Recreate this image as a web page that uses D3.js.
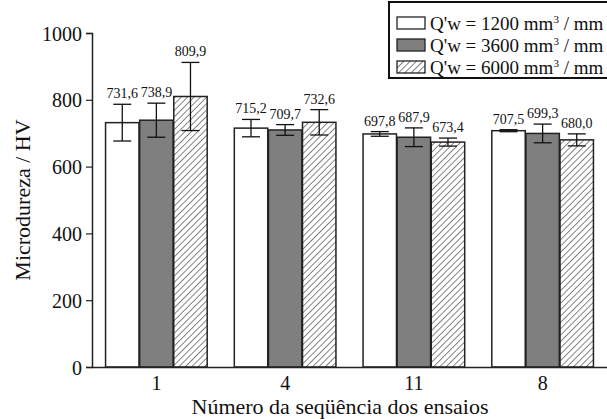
<!DOCTYPE html>
<html>
<head>
<meta charset="utf-8">
<script src="https://cdn.jsdelivr.net/npm/d3@7"></script>
<style>
  body { margin: 0; background: #fff; }
  text { font-family: "Liberation Serif", "Times New Roman", serif; fill: #111; }
</style>
</head>
<body>
<div id="chart"></div>
<script>
// data
var groups = ["1", "4", "11", "8"];
var series = ["Q'w = 1200", "Q'w = 3600", "Q'w = 6000"];
var vals1200 = [731.6, 715.2, 697.8, 707.5];
var vals3600 = [738.9, 709.7, 687.9, 699.3];
var vals6000 = [809.9, 732.6, 673.4, 680.0];
var err1200 = [55, 26, 7, 3];
var err3600 = [51, 16, 28, 28];
var err6000 = [102, 38, 12, 18];
var yTicks = [0, 200, 400, 600, 800, 1000];

var W = 607, H = 419;
var margin = { top: 33, right: 0, bottom: 52, left: 92 };
var width = W - margin.left - margin.right,
    height = H - margin.top - margin.bottom;

var svg = d3.select("#chart").append("svg")
    .attr("width", W)
    .attr("height", H);

// hatch pattern for the 6000 series
var defs = svg.append("defs");
defs.append("pattern")
    .attr("id", "hatch")
    .attr("patternUnits", "userSpaceOnUse")
    .attr("width", 4.5)
    .attr("height", 4.5)
    .attr("patternTransform", "rotate(45)")
  .append("line")
    .attr("x1", 0).attr("y1", 0)
    .attr("x2", 0).attr("y2", 4.5)
    .attr("stroke", "#333")
    .attr("stroke-width", 1.2);

var fills = ["#ffffff", "#7f7f7f", "url(#hatch)"];

var g = svg.append("g")
    .attr("transform", "translate(" + margin.left + "," + margin.top + ")");

var x = d3.scaleBand().domain(groups).range([0, width])
    .paddingInner(0.2).paddingOuter(0.1);
var xs = d3.scaleBand().domain(series).range([0, x.bandwidth()]).padding(0.02);
var y = d3.scaleLinear().domain([0, 1000]).range([height, 0]);

var rows = [];
groups.forEach(function(grp, i) {
    rows.push({ g: grp, s: series[0], v: vals1200[i], e: err1200[i], k: 0 });
    rows.push({ g: grp, s: series[1], v: vals3600[i], e: err3600[i], k: 1 });
    rows.push({ g: grp, s: series[2], v: vals6000[i], e: err6000[i], k: 2 });
});

// bars
g.selectAll("rect.bar").data(rows).enter().append("rect")
    .attr("class", "bar")
    .attr("x", function(d) { return x(d.g) + xs(d.s); })
    .attr("y", function(d) { return y(d.v); })
    .attr("width", xs.bandwidth())
    .attr("height", function(d) { return height - y(d.v); })
    .attr("fill", function(d) { return fills[d.k]; })
    .attr("stroke", "#222")
    .attr("stroke-width", 1.5);

// error bars
var cap = 9;
var cx = function(d) { return x(d.g) + xs(d.s) + xs.bandwidth() / 2; };
var eb = g.selectAll("g.err").data(rows).enter().append("g")
    .attr("class", "err")
    .attr("stroke", "#111")
    .attr("stroke-width", 1.3);
eb.append("line")
    .attr("x1", cx).attr("x2", cx)
    .attr("y1", function(d) { return y(d.v - d.e); })
    .attr("y2", function(d) { return y(d.v + d.e); });
eb.append("line")
    .attr("x1", function(d) { return cx(d) - cap; })
    .attr("x2", function(d) { return cx(d) + cap; })
    .attr("y1", function(d) { return y(d.v + d.e); })
    .attr("y2", function(d) { return y(d.v + d.e); });
eb.append("line")
    .attr("x1", function(d) { return cx(d) - cap; })
    .attr("x2", function(d) { return cx(d) + cap; })
    .attr("y1", function(d) { return y(d.v - d.e); })
    .attr("y2", function(d) { return y(d.v - d.e); });

// value labels
g.selectAll("text.val").data(rows).enter().append("text")
    .attr("class", "val")
    .attr("x", cx)
    .attr("y", function(d) { return y(d.v + d.e) - 6; })
    .attr("text-anchor", "middle")
    .style("font-size", "14px")
    .text(function(d) { return d.v.toFixed(1).replace(".", ","); });

// axes
var yAxis = g.append("g")
    .call(d3.axisLeft(y).tickValues(yTicks).tickFormat(d3.format("d")).tickSize(6).tickPadding(4));
yAxis.selectAll("text").style("font-size", "20px").attr("dy", "0.35em");
yAxis.select(".domain").attr("stroke", "#222").attr("stroke-width", 1.5);
yAxis.selectAll(".tick line").attr("stroke", "#222").attr("stroke-width", 1.2);

var xAxis = g.append("g")
    .attr("transform", "translate(0," + height + ")")
    .call(d3.axisBottom(x).tickSize(0).tickPadding(9));
xAxis.selectAll("text").style("font-size", "20px").attr("dy", "0.71em");
xAxis.select(".domain").attr("stroke", "#222").attr("stroke-width", 1.5);

// axis titles
svg.append("text")
    .attr("transform", "translate(30," + (margin.top + height / 2) + ") rotate(-90)")
    .attr("text-anchor", "middle")
    .style("font-size", "22px")
    .text("Microdureza / HV");

svg.append("text")
    .attr("x", 340)
    .attr("y", 414)
    .attr("text-anchor", "middle")
    .style("font-size", "22px")
    .text("Número da seqüência dos ensaios");

// legend
var leg = svg.append("g").attr("transform", "translate(389,2)");
leg.append("rect")
    .attr("width", 222).attr("height", 76)
    .attr("fill", "#fff")
    .attr("stroke", "#111")
    .attr("stroke-width", 2);
var units = ["1200", "3600", "6000"];
var li = leg.selectAll("g.li").data(units).enter().append("g")
    .attr("class", "li")
    .attr("transform", function(d, i) { return "translate(8," + (15 + i * 22) + ")"; });
li.append("rect")
    .attr("width", 28).attr("height", 12)
    .attr("fill", function(d, i) { return fills[i]; })
    .attr("stroke", "#222")
    .attr("stroke-width", 1.3);
var lt = li.append("text")
    .attr("x", 33)
    .attr("y", 13)
    .style("font-size", "19px");
lt.append("tspan").text(function(d) { return "Q'w = " + d + " mm"; });
lt.append("tspan").attr("dy", -7).style("font-size", "11px").text("3");
lt.append("tspan").attr("dy", 7).text(" / mm");
</script>
</body>
</html>
